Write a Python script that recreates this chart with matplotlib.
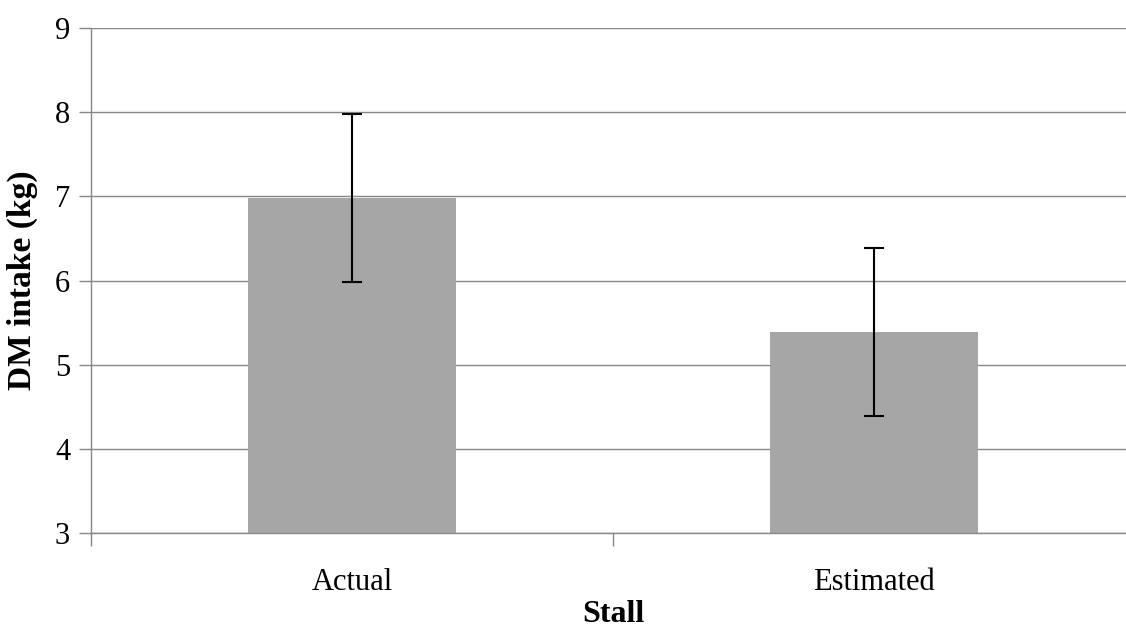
import matplotlib
matplotlib.use("Agg")
import matplotlib.pyplot as plt
import numpy as np

# values
categories = ["Actual", "Estimated"]
intake = [6.98, 5.39]
intake_err = [1.0, 1.0]
y_ticks = [3, 4, 5, 6, 7, 8, 9]

plt.rcParams["font.family"] = ["Liberation Serif", "DejaVu Serif"]

W, H = 1126, 629
fig = plt.figure(figsize=(W / 100, H / 100), dpi=100)
# plot area: left edge x=91, bottom y=533, top y=28; runs past the right edge
ax = fig.add_axes([91 / W, (H - 533) / H, (1135 - 91) / W, (533 - 28) / H])

grid_col = "#868686"
x = np.arange(len(categories))
ax.bar(x, intake, width=0.4, color="#a6a6a6", zorder=2)
ax.errorbar(x, intake, yerr=intake_err, fmt="none", ecolor="black",
            elinewidth=1.5, capsize=7, capthick=1.5, zorder=3)

ax.set_xlim(-0.5, len(categories) - 0.5)
ax.set_ylim(3, 9)
ax.set_yticks(y_ticks)
ax.yaxis.grid(True, color=grid_col, linewidth=1.0, zorder=0)
ax.set_axisbelow(True)

# category boundaries get the ticks, names sit in between
ax.set_xticks(np.arange(-0.5, len(categories), 1.0))
ax.set_xticklabels([])
ax.set_xticks(x, minor=True)
ax.set_xticklabels(categories, minor=True)
ax.tick_params(axis="x", which="minor", length=0, pad=25, labelsize=22)
ax.tick_params(axis="x", which="major", length=9, color=grid_col, width=1.0)
ax.tick_params(axis="y", length=9, color=grid_col, width=1.0, pad=6, labelsize=22)

for s in ["top", "right"]:
    ax.spines[s].set_visible(False)
for s in ["left", "bottom"]:
    ax.spines[s].set_color(grid_col)
    ax.spines[s].set_linewidth(1.0)

ax.set_xlabel("Stall", fontsize=23, fontweight="bold", labelpad=2)
ax.set_ylabel("DM intake (kg)", fontsize=24, fontweight="bold", labelpad=12)

fig.savefig("out.png", dpi=100)
